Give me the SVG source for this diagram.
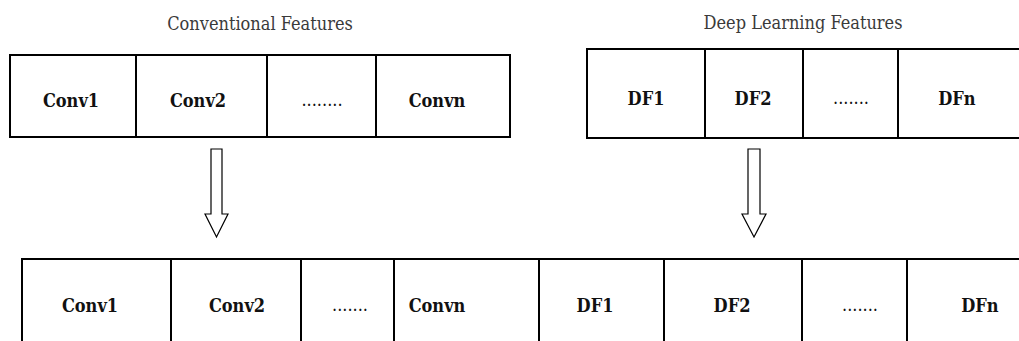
<svg xmlns="http://www.w3.org/2000/svg" width="1019" height="341" viewBox="0 0 1019 341">
  <style>
    .title { font-family: "DejaVu Serif Condensed", "DejaVu Serif", "Liberation Serif", serif; font-stretch: condensed; font-size: 18px; fill: #3a3a3a; text-anchor: middle; }
    .cell rect { fill: #ffffff; stroke: #000000; stroke-width: 2; }
    .cell text { font-family: "DejaVu Serif Condensed", "DejaVu Serif", "Liberation Serif", serif; font-stretch: condensed; font-weight: bold; font-size: 18px; fill: #111111; text-anchor: middle; }
    .cell text.dots { font-weight: normal; }
    .arrow { fill: #ffffff; stroke: #000000; stroke-width: 1.2; stroke-linejoin: miter; }
  </style>
  <rect width="1019" height="341" fill="#ffffff"/>

  <text class="title" x="260" y="30">Conventional Features</text>
  <text class="title" x="803" y="29">Deep Learning Features</text>

  <!-- conventional feature vector -->
  <g id="top-conv1" class="cell"><rect x="10" y="55" width="126" height="82"/><text x="71" y="107">Conv1</text></g>
  <g id="top-conv2" class="cell"><rect x="136" y="55" width="131" height="82"/><text x="198" y="107">Conv2</text></g>
  <g id="top-conv-dots" class="cell"><rect x="267" y="55" width="109" height="82"/><text class="dots" x="322" y="106">........</text></g>
  <g id="top-convn" class="cell"><rect x="376" y="55" width="134" height="82"/><text x="437" y="107">Convn</text></g>

  <!-- deep learning feature vector -->
  <g id="top-df1" class="cell"><rect x="587" y="49" width="118" height="89"/><text x="646" y="105">DF1</text></g>
  <g id="top-df2" class="cell"><rect x="705" y="49" width="98" height="89"/><text x="753" y="105">DF2</text></g>
  <g id="top-df-dots" class="cell"><rect x="803" y="49" width="95" height="89"/><text class="dots" x="851" y="104">.......</text></g>
  <g id="top-dfn" class="cell"><rect x="898" y="49" width="130" height="89"/><text x="957" y="105">DFn</text></g>

  <!-- fused feature vector -->
  <g id="fused-conv1" class="cell"><rect x="22" y="259" width="149" height="95"/><text x="90" y="312">Conv1</text></g>
  <g id="fused-conv2" class="cell"><rect x="171" y="259" width="130" height="95"/><text x="237" y="312">Conv2</text></g>
  <g id="fused-conv-dots" class="cell"><rect x="301" y="259" width="93" height="95"/><text class="dots" x="350" y="311">.......</text></g>
  <g id="fused-convn" class="cell"><rect x="394" y="259" width="145" height="95"/><text x="437" y="312">Convn</text></g>
  <g id="fused-df1" class="cell"><rect x="539" y="259" width="125" height="95"/><text x="595" y="312">DF1</text></g>
  <g id="fused-df2" class="cell"><rect x="664" y="259" width="138" height="95"/><text x="732" y="312">DF2</text></g>
  <g id="fused-df-dots" class="cell"><rect x="802" y="259" width="105" height="95"/><text class="dots" x="860" y="311">.......</text></g>
  <g id="fused-dfn" class="cell"><rect x="907" y="259" width="130" height="95"/><text x="980" y="312">DFn</text></g>

  <!-- block arrows into the fused vector -->
  <g id="connectors">
    <path class="arrow" d="M211,149 H222 V214 H228 L216.5,237 L205,214 H211 Z"/>
    <path class="arrow" d="M748,149 H760 V214 H766 L754,237 L742,214 H748 Z"/>
  </g>
</svg>
